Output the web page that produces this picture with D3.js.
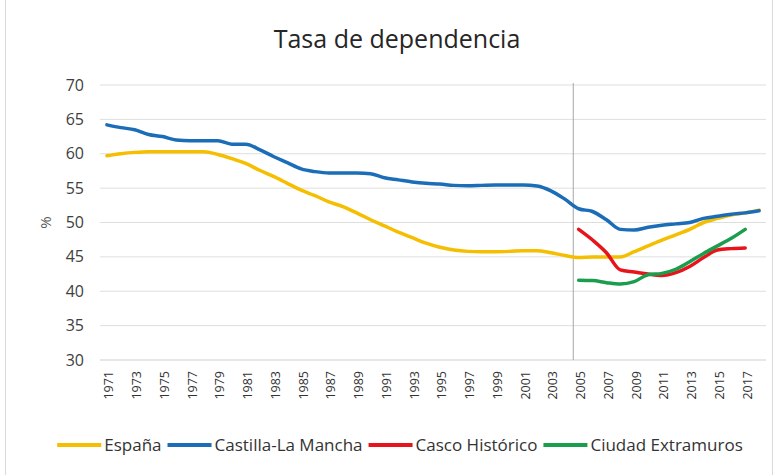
<!DOCTYPE html>
<html>
  <head>
    <meta charset="UTF-8" />
    <title>Tasa de dependencia</title>
    <style>
      body { margin: 0; background: #fff; }
      svg { display: block; font-family: "Open Sans", sans-serif; }
    </style>
  </head>
  <body>
    <svg width="779" height="475"></svg>

    <script src="https://d3js.org/d3.v7.min.js"></script>
    <script>
      // 数据
      const years = [
        1971, 1972, 1973, 1974, 1975, 1976, 1977, 1978, 1979, 1980, 1981, 1982,
        1983, 1984, 1985, 1986, 1987, 1988, 1989, 1990, 1991, 1992, 1993, 1994,
        1995, 1996, 1997, 1998, 1999, 2000, 2001, 2002, 2003, 2004, 2005, 2006,
        2007, 2008, 2009, 2010, 2011, 2012, 2013, 2014, 2015, 2016, 2017, 2018
      ];
      const espana = [
        59.7, 60.0, 60.2, 60.3, 60.3, 60.3, 60.3, 60.3, 59.9, 59.3, 58.6, 57.6,
        56.7, 55.7, 54.7, 53.9, 53.0, 52.3, 51.4, 50.4, 49.5, 48.6, 47.8, 47.0,
        46.4, 46.0, 45.8, 45.75, 45.75, 45.8, 45.9, 45.9, 45.6, 45.2, 44.9, 45.0,
        45.0, 45.0, 45.75, 46.6, 47.45, 48.2, 49.0, 50.0, 50.6, 51.1, 51.4, 51.8
      ];
      const castilla = [
        64.2, 63.8, 63.5, 62.8, 62.5, 62.0, 61.9, 61.9, 61.9, 61.4, 61.4, 60.6,
        59.6, 58.7, 57.8, 57.4, 57.2, 57.2, 57.2, 57.1, 56.5, 56.2, 55.9, 55.7,
        55.6, 55.4, 55.35, 55.4, 55.45, 55.45, 55.45, 55.3, 54.6, 53.4, 52.0, 51.6,
        50.4, 49.0, 48.9, 49.3, 49.6, 49.8, 50.0, 50.6, 50.9, 51.2, 51.4, 51.7
      ];
      // 2005-2017
      const casco = [49.0, 47.45, 45.6, 43.1, 42.8, 42.5, 42.3, 42.7, 43.6, 44.9, 46.0, 46.2, 46.3];
      const extramuros = [41.6, 41.55, 41.25, 41.05, 41.4, 42.4, 42.6, 43.2, 44.3, 45.5, 46.6, 47.7, 49.0];
      const yTicks = [30, 35, 40, 45, 50, 55, 60, 65, 70];
      const xTickYears = years.filter((d, i) => i % 2 === 0);

      const seriesNames = ["España", "Castilla-La Mancha", "Casco Histórico", "Ciudad Extramuros"];
      const colors = ["#F5BE00", "#1B6DB8", "#E8141B", "#1A9E4E"];

      // 2005 之前的城区数据为空
      const pad = (arr) => years.map((yr) => {
        const k = yr - 2005;
        return k >= 0 && k < arr.length ? arr[k] : null;
      });
      const series = [espana, castilla, pad(casco), pad(extramuros)];

      // 布局
      const svg = d3.select("svg");
      const PLOT_L = 100, PLOT_R = 766, PLOT_T = 85, PLOT_B = 360;

      const x = d3.scaleBand().domain(years).range([PLOT_L, PLOT_R]).padding(0);
      const y = d3.scaleLinear().domain([30, 70]).range([PLOT_B, PLOT_T]);
      const cx = (d) => x(d) + x.bandwidth() / 2;

      // 外框
      svg.append("rect")
        .attr("x", 5.5).attr("y", -1)
        .attr("width", 767).attr("height", 478)
        .attr("fill", "none").attr("stroke", "#d9d9d9");

      // 网格线
      svg.append("g")
        .selectAll("line")
        .data(yTicks)
        .enter()
        .append("line")
        .attr("x1", PLOT_L).attr("x2", PLOT_R)
        .attr("y1", (d) => y(d)).attr("y2", (d) => y(d))
        .attr("stroke", (d) => (d === 30 ? "#cfcfcf" : "#dedede"))
        .attr("stroke-width", 1);

      // y 轴标签
      svg.append("g")
        .selectAll("text")
        .data(yTicks)
        .enter()
        .append("text")
        .attr("x", 84)
        .attr("y", (d) => y(d))
        .attr("dy", "0.35em")
        .attr("text-anchor", "end")
        .attr("font-size", "16px")
        .attr("fill", "#404040")
        .text((d) => d);

      svg.append("text")
        .attr("transform", `translate(51,${y(50)}) rotate(-90)`)
        .attr("text-anchor", "middle")
        .attr("font-size", "15px")
        .attr("fill", "#595959")
        .text("%");

      // x 轴标签
      svg.append("g")
        .selectAll("text")
        .data(xTickYears)
        .enter()
        .append("text")
        .attr("transform", (d) => `translate(${cx(d) + 2},${PLOT_B + 11}) rotate(-90)`)
        .attr("dy", "0.35em")
        .attr("text-anchor", "end")
        .attr("font-size", "12.5px")
        .attr("fill", "#333")
        .text((d) => d);

      // 2005 分隔线
      svg.append("line")
        .attr("x1", x(2005) + 1.5).attr("x2", x(2005) + 1.5)
        .attr("y1", PLOT_T - 2).attr("y2", PLOT_B)
        .attr("stroke", "#a6a6a6")
        .attr("stroke-width", 1);

      // 线路
      const line = d3.line()
        .defined((d) => d != null)
        .x((d, i) => cx(years[i]))
        .y((d) => y(d))
        .curve(d3.curveMonotoneX);

      svg.append("g")
        .selectAll("path")
        .data(series)
        .enter()
        .append("path")
        .attr("d", (d) => line(d))
        .attr("fill", "none")
        .attr("stroke", (d, i) => colors[i])
        .attr("stroke-width", 3.5)
        .attr("stroke-linejoin", "round")
        .attr("stroke-linecap", "round");

      // 标题
      svg.append("text")
        .attr("x", 397)
        .attr("y", 48)
        .attr("text-anchor", "middle")
        .attr("font-size", "25px")
        .attr("fill", "#262626")
        .text("Tasa de dependencia");

      // 图例
      const legend = svg.append("g");
      const LINE_LEN = 44, GAP_TXT = 3, GAP_ITEM = 6, LEG_Y = 445;
      const items = legend.selectAll("g")
        .data(seriesNames)
        .enter()
        .append("g");
      items.append("line")
        .attr("x1", 0).attr("x2", LINE_LEN)
        .attr("y1", 0).attr("y2", 0)
        .attr("stroke", (d, i) => colors[i])
        .attr("stroke-width", 4);
      items.append("text")
        .attr("x", LINE_LEN + GAP_TXT)
        .attr("dy", "0.35em")
        .attr("font-size", "17px")
        .attr("fill", "#333")
        .text((d) => d);

      const widths = [];
      items.each(function () {
        const w = LINE_LEN + GAP_TXT + d3.select(this).select("text").node().getComputedTextLength();
        widths.push(w);
      });
      const total = d3.sum(widths) + GAP_ITEM * (widths.length - 1);
      const start = 400 - total / 2;
      let offset = 0;
      items.attr("transform", (d, i) => {
        const tx = start + offset;
        offset += widths[i] + GAP_ITEM;
        return `translate(${tx},${LEG_Y})`;
      });
    </script>
  </body>
</html>
